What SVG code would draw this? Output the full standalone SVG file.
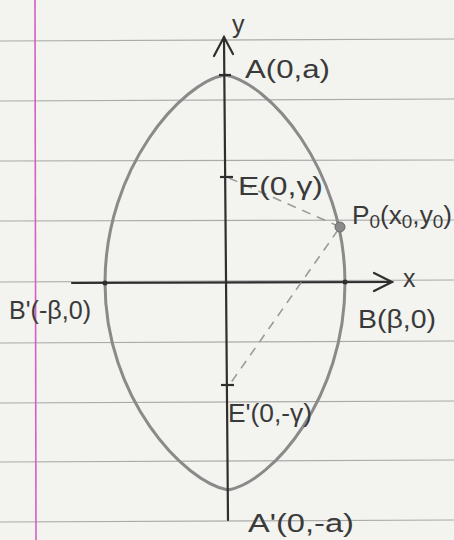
<svg xmlns="http://www.w3.org/2000/svg" width="454" height="540" viewBox="0 0 454 540">
<style>
.rule{stroke:#8c8c8c;stroke-width:1.2;opacity:0.7}
.axis{stroke:#2e2e2e;stroke-width:2.2;fill:none;stroke-linecap:round}
.curve{stroke:#8a8a8a;stroke-width:3;fill:none}
.dash{stroke:#9a9a9a;stroke-width:1.6;stroke-dasharray:9 7;fill:none}
.lbl{font-family:"Liberation Sans",Arial,sans-serif;font-size:25px;fill:#3a3a3a}
.tick{stroke:#2e2e2e;stroke-width:2.2}
</style>
<rect width="454" height="540" fill="#f3f3ef"/>
<g id="paper">
<line class="rule" x1="0" y1="41" x2="454" y2="39"/>
<line class="rule" x1="0" y1="101" x2="454" y2="99"/>
<line class="rule" x1="0" y1="161" x2="454" y2="160"/>
<line class="rule" x1="0" y1="221" x2="454" y2="220"/>
<line class="rule" x1="0" y1="282" x2="454" y2="280"/>
<line class="rule" x1="0" y1="343" x2="454" y2="341"/>
<line class="rule" x1="0" y1="403" x2="454" y2="401"/>
<line class="rule" x1="0" y1="462" x2="454" y2="460"/>
<line class="rule" x1="0" y1="522" x2="454" y2="520"/>
<line x1="35" y1="0" x2="36" y2="540" stroke="#d65ec4" stroke-width="1.6"/>
</g>
<g id="ellipse">
<path class="curve" d="M225,75 C268,82 345,168 345,283 C345,398 272,482 228,490 C184,482 105,398 105,283 C105,168 182,82 225,75 Z"/>
</g>
<g id="axes">
<line class="axis" x1="224" y1="37" x2="228" y2="520"/>
<polyline class="axis" points="214,56 224,37 233,54"/>
<line class="axis" x1="72" y1="283" x2="392" y2="282"/>
<polyline class="axis" points="374,273 392,282 374,291"/>
</g>
<g id="connectors">
<line class="dash" x1="229" y1="178" x2="338" y2="226"/>
<line class="dash" x1="338" y1="230" x2="230" y2="384"/>
</g>
<g id="node-y"><text class="lbl" x="232" y="33" font-size="24">y</text></g>
<g id="node-A"><line class="tick" x1="219" y1="75" x2="231" y2="75"/><text class="lbl" x="245" y="78" textLength="85" lengthAdjust="spacingAndGlyphs">A(0,a)</text></g>
<g id="node-E"><line class="tick" x1="220" y1="177" x2="233" y2="177"/><text class="lbl" x="238" y="195" textLength="85" lengthAdjust="spacingAndGlyphs">E(0,γ)</text></g>
<g id="node-P0"><circle cx="340" cy="227" r="5" fill="#8a8a8a" stroke="#6a6a6a" stroke-width="1"/><text class="lbl" x="352" y="224" textLength="100" lengthAdjust="spacingAndGlyphs">P<tspan font-size="18" dy="4">0</tspan><tspan dy="-4">(x</tspan><tspan font-size="18" dy="4">0</tspan><tspan dy="-4">,y</tspan><tspan font-size="18" dy="4">0</tspan><tspan dy="-4">)</tspan></text></g>
<g id="node-x"><text class="lbl" x="403" y="287" font-size="26">x</text></g>
<g id="node-B"><circle cx="345" cy="282" r="2.5" fill="#2e2e2e"/><text class="lbl" x="358" y="328" textLength="78" lengthAdjust="spacingAndGlyphs">B(β,0)</text></g>
<g id="node-B1"><circle cx="105" cy="283" r="2.5" fill="#2e2e2e"/><text class="lbl" x="9" y="319" textLength="82" lengthAdjust="spacingAndGlyphs">B'(-β,0)</text></g>
<g id="node-E1"><line class="tick" x1="221" y1="385" x2="234" y2="385"/><text class="lbl" x="228" y="422" textLength="84" lengthAdjust="spacingAndGlyphs">E'(0,-γ)</text></g>
<g id="node-A1"><text class="lbl" x="248" y="532" textLength="106" lengthAdjust="spacingAndGlyphs">A'(0,-a)</text></g>
</svg>
